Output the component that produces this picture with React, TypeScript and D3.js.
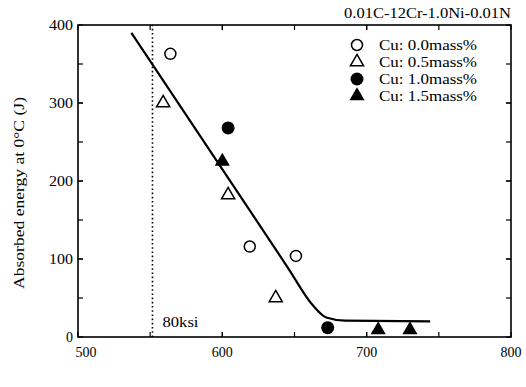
import React from 'react';
import * as d3 from 'd3';

// yield strength (MPa) vs absorbed energy at 0°C (J)
const cu00 = [{ ys: 564, e: 363 }, { ys: 619, e: 116 }, { ys: 651, e: 104 }];
const cu05 = [{ ys: 559, e: 300 }, { ys: 604, e: 182 }, { ys: 637, e: 50 }];
const cu10 = [{ ys: 604, e: 268 }, { ys: 673, e: 12 }];
const cu15 = [{ ys: 600, e: 225 }, { ys: 708, e: 9 }, { ys: 730, e: 9 }];

// hand-drawn trend curve
const trend: [number, number][] = [
  [537, 390], [645, 90], [663, 40], [672, 25], [685, 21], [744, 20],
];

const xTicks = [500, 600, 700, 800];
const yTicks = [0, 100, 200, 300, 400];
const ksiLine = 551.6; // 80 ksi in MPa

const legendLabels = ['Cu: 0.0mass%', 'Cu: 0.5mass%', 'Cu: 1.0mass%', 'Cu: 1.5mass%'];

const txt = { fontFamily: "'Liberation Serif'", fontSize: 14 };

const x = d3.scaleLinear().domain([500, 800]).range([78, 511]);
const y = d3.scaleLinear().domain([0, 400]).range([337, 25]);

const tri = d3.symbol().type(d3.symbolTriangle).size(75)() as string;

const Marker = ({ kind, cx, cy }: { kind: number; cx: number; cy: number }) => {
  if (kind === 0)
    return <circle cx={cx} cy={cy} r={5.5} fill="#fff" stroke="#000" strokeWidth={1.5} />;
  if (kind === 1)
    return <path d={tri} transform={`translate(${cx},${cy})`} fill="#fff" stroke="#000" strokeWidth={1.5} />;
  if (kind === 2) return <circle cx={cx} cy={cy} r={6.5} fill="#000" />;
  return <path d={tri} transform={`translate(${cx},${cy}) scale(1.15)`} fill="#000" />;
};

export default function App() {
  const series = [cu00, cu05, cu10, cu15];
  const line = d3.line<[number, number]>()
    .x(d => x(d[0]))
    .y(d => y(d[1]))
    .curve(d3.curveMonotoneX);
  const minorX = d3.range(550, 800, 50);
  const minorY = d3.range(50, 400, 50);

  return (
    <svg width={526} height={387} style={{ position: 'absolute', left: 0, top: 0, background: '#fff' }}>
      {/* frame */}
      <rect x={x(500)} y={y(400)} width={x(800) - x(500)} height={y(0) - y(400)}
        fill="none" stroke="#000" strokeWidth={1.6} />

      {/* ticks, pointing inward */}
      {yTicks.concat(minorY).map(v => (
        <g key={'yt' + v}>
          <line x1={x(500)} x2={x(500) + 5} y1={y(v)} y2={y(v)} stroke="#000" strokeWidth={1.2} />
          <line x1={x(800)} x2={x(800) - 5} y1={y(v)} y2={y(v)} stroke="#000" strokeWidth={1.2} />
        </g>
      ))}
      {xTicks.concat(minorX).map(v => (
        <g key={'xt' + v}>
          <line x1={x(v)} x2={x(v)} y1={y(0)} y2={y(0) - 5} stroke="#000" strokeWidth={1.2} />
          <line x1={x(v)} x2={x(v)} y1={y(400)} y2={y(400) + 5} stroke="#000" strokeWidth={1.2} />
        </g>
      ))}

      {yTicks.map(v => (
        <text key={'yl' + v} x={x(500) - 5} y={y(v) + 5} textAnchor="end" style={txt}
          textLength={v === 0 ? undefined : 24} lengthAdjust="spacingAndGlyphs">{v}</text>
      ))}
      {xTicks.map(v => (
        <text key={'xl' + v} x={x(v) + (v === 500 ? 8 : 0)} y={357} textAnchor="middle" style={txt}>{v}</text>
      ))}

      <text transform={`translate(24,${(y(0) + y(400)) / 2 + 12}) rotate(-90)`} textAnchor="middle"
        style={txt} textLength={192} lengthAdjust="spacingAndGlyphs">Absorbed energy at 0°C (J)</text>

      <text x={x(800)} y={18} textAnchor="end" style={txt} textLength={167}
        lengthAdjust="spacingAndGlyphs">0.01C-12Cr-1.0Ni-0.01N</text>

      {/* 80 ksi reference */}
      <line x1={x(ksiLine)} x2={x(ksiLine)} y1={y(0)} y2={y(400)} stroke="#000"
        strokeWidth={1.6} strokeDasharray="1.6,2.6" />
      <text x={x(ksiLine) + 10} y={y(0) - 10} style={txt} textLength={36}
        lengthAdjust="spacingAndGlyphs">80ksi</text>

      <path d={line(trend) ?? ''} fill="none" stroke="#000" strokeWidth={2.2} />

      {series.map((s, i) => s.map((d, j) => (
        <Marker key={`m${i}-${j}`} kind={i} cx={x(d.ys)} cy={y(d.e)} />
      )))}

      {legendLabels.map((t, i) => (
        <g key={'lg' + i} transform={`translate(357,${45 + i * 17})`}>
          <Marker kind={i} cx={0} cy={0} />
          <text x={22} y={5} style={txt} textLength={98} lengthAdjust="spacingAndGlyphs">{t}</text>
        </g>
      ))}
    </svg>
  );
}
